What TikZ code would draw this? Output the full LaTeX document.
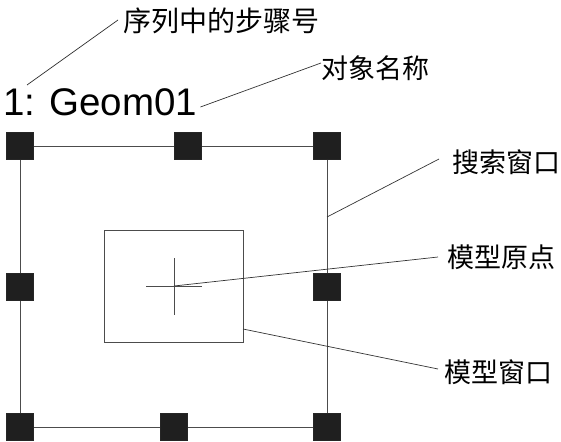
\documentclass[tikz,border=0pt]{standalone}
\usepackage{fontspec}
\setmainfont{Liberation Sans}
\newfontfamily\cjk{Noto Sans CJK SC}

\begin{document}
\begin{tikzpicture}[x=1pt, y=-1pt,
	every node/.style={inner sep=0pt},
	handle/.style={draw=black!85, fill=black!88, minimum size=27pt},
	note/.style={font=\cjk\fontsize{27}{30}\selectfont, anchor=west},
	frame/.style={gray!60!black, line width=1pt},
	leader/.style={black!80, line width=0.7pt}]
	\useasboundingbox (0,0) rectangle (561,441);
	% search window handles
	\node[handle] (tl) at (20,146) {};
	\node[handle] (tm) at (188,146) {};
	\node[handle] (tr) at (327,146) {};
	\node[handle] (ml) at (20,287) {};
	\node[handle] (mr) at (327,287) {};
	\node[handle] (bl) at (20,427) {};
	\node[handle] (bm) at (174,427) {};
	\node[handle] (br) at (327,427) {};
	\draw[frame] (tl) -- (tm) -- (tr) -- (mr) -- (br) -- (bm) -- (bl) -- (ml) -- (tl);
	% model window and origin
	\node[draw=gray!60!black, line width=0.9pt, minimum width=139pt, minimum height=112pt] (model) at (173.5,286) {};
	\coordinate (origin) at (174,286);
	\draw[frame, line width=0.8pt] (146,286) -- (202,286) (174,258) -- (174,315);
	% texts
	\node[font=\fontsize{38.5}{40}\selectfont, anchor=base west] (title) at (3,115) {1: Geom01};
	\node[note, font=\cjk\fontsize{28}{30}\selectfont] (steplbl) at (123,21) {序列中的步骤号};
	\node[note] (objlbl) at (321,68) {对象名称};
	\node[note] (searchlbl) at (452,162) {搜索窗口};
	\node[note] (originlbl) at (447,257) {模型原点};
	\node[note] (modellbl) at (444,372) {模型窗口};
	% leaders
	\coordinate (stepend) at (27,85);
	\coordinate (frameend) at (327,217);
	\coordinate (modelend) at (243,329);
	\draw[leader] (stepend) -- ([xshift=-5pt,yshift=1pt]steplbl.west);
	\draw[leader] ([xshift=3pt,yshift=8pt]title.base east) -- ([yshift=5pt]objlbl.west);
	\draw[leader] (frameend) -- ([xshift=-13pt,yshift=3pt]searchlbl.west);
	\draw[leader] (origin) -- ([xshift=-9pt]originlbl.west);
	\draw[leader] (modelend) -- ([xshift=-6pt,yshift=3pt]modellbl.west);
\end{tikzpicture}
\end{document}
